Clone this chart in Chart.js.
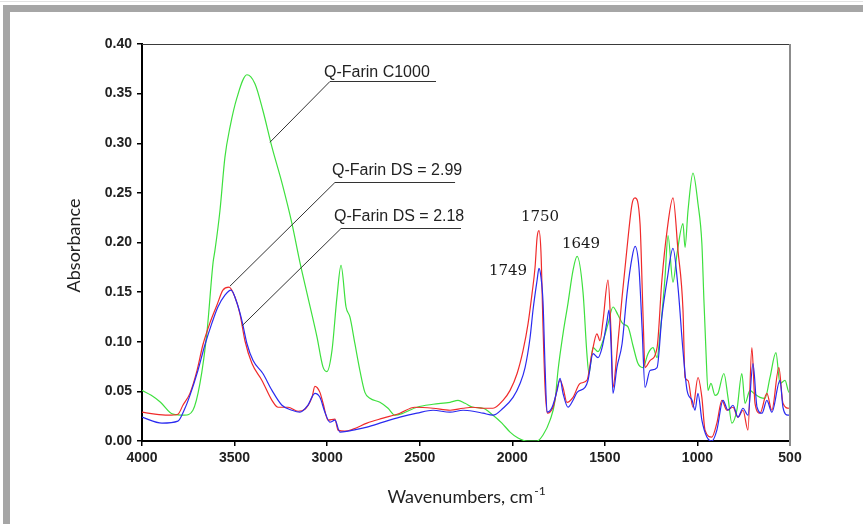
<!DOCTYPE html>
<html lang="en">
<head>
  <meta charset="UTF-8">
  <title>Espectros FTIR</title>
  <script src="https://cdn.jsdelivr.net/npm/chart.js"></script>
  <style>
    html, body { margin: 0; padding: 0; background: #fff; }
    #wrap { width: 863px; height: 524px; }
  </style>
</head>
<body>
<div id="wrap"><canvas id="grafico"></canvas></div>
<script>
  // Q-Farin C1000 (green)
  const wnC1000 = [4000, 3950, 3900, 3833, 3770, 3725, 3687, 3649, 3616, 3606,
    3579, 3552, 3525, 3487, 3433, 3390, 3347, 3298, 3244, 3190,
    3147, 3104, 3055, 3023, 3001, 2974, 2947, 2925, 2898, 2877,
    2850, 2823, 2796, 2769, 2715, 2671, 2634, 2590, 2515, 2428,
    2336, 2293, 2255, 2212, 2158, 2104, 2056, 2012, 1969, 1920,
    1866, 1834, 1796, 1769, 1753, 1726, 1699, 1672, 1650, 1618,
    1597, 1586, 1564, 1537, 1510, 1483, 1456, 1429, 1402, 1375,
    1348, 1321, 1294, 1267, 1240, 1218, 1202, 1175, 1159, 1132,
    1110, 1078, 1067, 1051, 1024, 997, 976, 965, 954, 943,
    927, 905, 889, 857, 835, 814, 787, 760, 743, 716,
    695, 662, 635, 608, 576, 554, 527, 505, 500];
  const absC1000 = [0.051, 0.046, 0.039, 0.027, 0.026, 0.031, 0.058, 0.110, 0.180, 0.192,
    0.232, 0.286, 0.316, 0.346, 0.369, 0.360, 0.333, 0.296, 0.260, 0.219,
    0.180, 0.145, 0.105, 0.075, 0.070, 0.091, 0.145, 0.177, 0.135, 0.125,
    0.098, 0.071, 0.049, 0.043, 0.039, 0.033, 0.026, 0.028, 0.034, 0.037,
    0.039, 0.041, 0.038, 0.034, 0.033, 0.026, 0.018, 0.009, 0.003, 0.000,
    0.000, 0.006, 0.021, 0.041, 0.071, 0.108, 0.139, 0.172, 0.186, 0.150,
    0.088, 0.068, 0.094, 0.090, 0.101, 0.118, 0.135, 0.127, 0.118, 0.115,
    0.096, 0.078, 0.074, 0.088, 0.094, 0.084, 0.108, 0.165, 0.207, 0.160,
    0.189, 0.219, 0.195, 0.232, 0.270, 0.239, 0.199, 0.142, 0.091, 0.051,
    0.058, 0.046, 0.048, 0.068, 0.044, 0.018, 0.031, 0.068, 0.038, 0.051,
    0.048, 0.044, 0.043, 0.064, 0.089, 0.058, 0.061, 0.049, 0.050];

  // Q-Farin DS = 2.99 (red)
  const wnDS299 = [4000, 3930, 3860, 3806, 3779, 3741, 3703, 3671, 3633, 3595,
    3563, 3530, 3498, 3471, 3444, 3406, 3352, 3298, 3265, 3211,
    3157, 3120, 3082, 3066, 3039, 3022, 2995, 2958, 2941, 2904,
    2860, 2785, 2698, 2607, 2526, 2428, 2336, 2266, 2212, 2158,
    2104, 2050, 2012, 1974, 1942, 1915, 1893, 1877, 1866, 1856,
    1845, 1834, 1823, 1810, 1780, 1742, 1726, 1705, 1672, 1634,
    1597, 1570, 1543, 1526, 1510, 1483, 1467, 1456, 1435, 1407,
    1380, 1353, 1337, 1310, 1294, 1283, 1256, 1218, 1192, 1164,
    1132, 1105, 1078, 1067, 1051, 1024, 997, 976, 959, 922,
    895, 868, 841, 808, 781, 754, 727, 706, 689, 662,
    625, 598, 560, 538, 505, 500];
  const absDS299 = [0.029, 0.027, 0.026, 0.027, 0.036, 0.048, 0.071, 0.097, 0.119, 0.137,
    0.152, 0.155, 0.145, 0.128, 0.101, 0.078, 0.061, 0.041, 0.034, 0.034,
    0.030, 0.032, 0.044, 0.055, 0.049, 0.038, 0.021, 0.022, 0.011, 0.010,
    0.012, 0.018, 0.023, 0.028, 0.034, 0.033, 0.031, 0.033, 0.034, 0.033,
    0.033, 0.041, 0.051, 0.068, 0.091, 0.118, 0.149, 0.175, 0.205, 0.212,
    0.190, 0.115, 0.054, 0.028, 0.034, 0.061, 0.054, 0.039, 0.044, 0.058,
    0.061, 0.088, 0.108, 0.101, 0.121, 0.162, 0.111, 0.054, 0.088, 0.145,
    0.195, 0.239, 0.245, 0.219, 0.128, 0.074, 0.081, 0.094, 0.162, 0.212,
    0.245, 0.192, 0.132, 0.064, 0.061, 0.034, 0.064, 0.044, 0.011, 0.004,
    0.018, 0.041, 0.031, 0.034, 0.024, 0.031, 0.011, 0.094, 0.038, 0.028,
    0.048, 0.031, 0.074, 0.038, 0.033, 0.033];

  // Q-Farin DS = 2.18 (blue)
  const wnDS218 = [4000, 3892, 3806, 3768, 3741, 3698, 3660, 3622, 3590, 3552,
    3519, 3487, 3460, 3433, 3400, 3347, 3298, 3244, 3190, 3147,
    3104, 3066, 3039, 3012, 2985, 2958, 2931, 2887, 2860, 2785,
    2698, 2607, 2515, 2428, 2336, 2266, 2212, 2158, 2104, 2050,
    1996, 1958, 1931, 1904, 1888, 1866, 1856, 1845, 1834, 1823,
    1812, 1785, 1758, 1742, 1726, 1699, 1672, 1650, 1607, 1591,
    1564, 1537, 1515, 1488, 1478, 1467, 1456, 1435, 1407, 1380,
    1353, 1337, 1316, 1299, 1283, 1256, 1218, 1192, 1164, 1132,
    1105, 1078, 1056, 1029, 1013, 997, 976, 949, 922, 895,
    862, 835, 808, 781, 754, 727, 700, 678, 651, 625,
    598, 554, 538, 511, 500];
  const absDS218 = [0.024, 0.018, 0.020, 0.033, 0.046, 0.071, 0.097, 0.119, 0.135, 0.147,
    0.152, 0.139, 0.121, 0.098, 0.081, 0.068, 0.051, 0.036, 0.031, 0.029,
    0.036, 0.048, 0.044, 0.029, 0.019, 0.021, 0.009, 0.010, 0.011, 0.014,
    0.019, 0.024, 0.028, 0.031, 0.029, 0.031, 0.030, 0.028, 0.026, 0.033,
    0.044, 0.058, 0.074, 0.104, 0.132, 0.162, 0.174, 0.165, 0.140, 0.075,
    0.029, 0.034, 0.051, 0.063, 0.048, 0.034, 0.041, 0.049, 0.054, 0.061,
    0.088, 0.084, 0.094, 0.121, 0.132, 0.100, 0.048, 0.074, 0.098, 0.149,
    0.185, 0.196, 0.175, 0.114, 0.054, 0.071, 0.074, 0.125, 0.162, 0.194,
    0.155, 0.091, 0.051, 0.041, 0.031, 0.048, 0.021, 0.004, 0.000, 0.011,
    0.041, 0.031, 0.036, 0.024, 0.033, 0.026, 0.078, 0.034, 0.028, 0.041,
    0.029, 0.061, 0.034, 0.026, 0.026];

  const xTicks = [4000, 3500, 3000, 2500, 2000, 1500, 1000, 500];

  // rótulos com linha de chamada: [texto, x do texto, y da base, inicio sublinhado, fim sublinhado, y sublinhado, ponto na curva]
  const rotulos = [
    ['Q-Farin C1000', 3017, 0.3666, 2985, 2412, 0.3626, [3309, 0.301]],
    ['Q-Farin DS = 2.99', 2974, 0.2678, 2958, 2309, 0.2608, [3525, 0.156]],
    ['Q-Farin DS = 2.18', 2963, 0.2215, 2925, 2277, 0.2144, [3460, 0.116]]
  ];
  const picos = [['1750', 1850, 0.2215], ['1649', 1629, 0.1943], ['1749', 2023, 0.167]];

  const pares = (xs, ys) => xs.map((x, i) => ({ x: x, y: ys[i] }));

  const moldura = {
    id: 'moldura',
    beforeDraw(chart) {
      const c = chart.ctx;
      c.save();
      c.fillStyle = '#fff';
      c.fillRect(0, 0, chart.width, chart.height);
      c.fillStyle = '#e2e2e2';
      c.fillRect(0, 1, chart.width, 1);
      c.fillStyle = '#a6a6a6';
      c.fillRect(3, 5, chart.width - 3, 7);
      c.fillRect(3, 5, 7, chart.height - 5);
      c.restore();
    },
    afterDraw(chart) {
      const c = chart.ctx;
      const a = chart.chartArea;
      const sx = chart.scales.x, sy = chart.scales.y;
      c.save();
      // topo e lado direito do quadro
      c.strokeStyle = '#3a3a3a';
      c.lineWidth = 1;
      c.beginPath();
      c.moveTo(a.left, a.top + 0.5);
      c.lineTo(a.right, a.top + 0.5);
      c.stroke();
      c.strokeStyle = '#8c8c8c';
      c.lineWidth = 2;
      c.beginPath();
      c.moveTo(a.right, a.top);
      c.lineTo(a.right, a.bottom + 5);
      c.stroke();

      // rótulos das séries
      c.font = '16px "Liberation Sans", Arial, sans-serif';
      c.fillStyle = '#222';
      c.textAlign = 'left';
      c.textBaseline = 'alphabetic';
      c.strokeStyle = '#333';
      c.lineWidth = 1;
      rotulos.forEach(r => {
        c.fillText(r[0], sx.getPixelForValue(r[1]), sy.getPixelForValue(r[2]));
        const yl = Math.round(sy.getPixelForValue(r[5])) + 0.5;
        c.beginPath();
        c.moveTo(sx.getPixelForValue(r[4]), yl);
        c.lineTo(sx.getPixelForValue(r[3]), yl);
        c.lineTo(sx.getPixelForValue(r[6][0]), sy.getPixelForValue(r[6][1]));
        c.stroke();
      });

      // números dos picos
      c.font = '15px "DejaVu Serif", Cambria, serif';
      c.fillStyle = '#1a1a1a';
      c.textAlign = 'center';
      picos.forEach(p => {
        c.fillText(p[0], sx.getPixelForValue(p[1]), sy.getPixelForValue(p[2]));
      });

      // títulos dos eixos
      c.fillStyle = '#222';
      c.font = '18px Lato, "Open Sans", sans-serif';
      c.save();
      c.translate(74, (a.top + a.bottom) / 2 + 3);
      c.rotate(-Math.PI / 2);
      c.textAlign = 'center';
      c.textBaseline = 'middle';
      c.fillText('Absorbance', 0, 0);
      c.restore();

      const t1 = 'Wavenumbers, cm', t2 = '-1';
      c.font = '18px Lato, "Open Sans", sans-serif';
      const w1 = c.measureText(t1).width;
      c.font = '12px Lato, "Open Sans", sans-serif';
      const w2 = c.measureText(t2).width;
      const x0 = (a.left + a.right) / 2 - (w1 + w2) / 2;
      c.textAlign = 'left';
      c.textBaseline = 'alphabetic';
      c.font = '18px Lato, "Open Sans", sans-serif';
      c.fillText(t1, x0, 503);
      c.font = '12px Lato, "Open Sans", sans-serif';
      c.fillText(t2, x0 + w1 + 1, 495);
      c.restore();
    }
  };

  const fonteEixo = { family: '"Liberation Sans", Arial, sans-serif', weight: 'bold', size: 14 };

  const grafico = new Chart(document.getElementById('grafico'), {
    type: 'scatter',
    data: {
      datasets: [
        { label: 'Q-Farin DS = 2.18', data: pares(wnDS218, absDS218), borderColor: '#2a2af0' },
        { label: 'Q-Farin DS = 2.99', data: pares(wnDS299, absDS299), borderColor: '#f02a2a' },
        { label: 'Q-Farin C1000', data: pares(wnC1000, absC1000), borderColor: '#3ee03e' }
      ].map(d => Object.assign(d, {
        showLine: true,
        borderWidth: 1.2,
        pointRadius: 0,
        cubicInterpolationMode: 'monotone',
        fill: false
      }))
    },
    options: {
      responsive: true,
      maintainAspectRatio: false,
      animation: false,
      devicePixelRatio: 1,
      layout: { padding: { top: 44, right: 73, left: 0, bottom: 0 } },
      plugins: {
        legend: { display: false },
        tooltip: { enabled: false }
      },
      scales: {
        x: {
          type: 'linear',
          reverse: true,
          min: 500,
          max: 4000,
          afterBuildTicks: s => { s.ticks = xTicks.map(v => ({ value: v })); },
          afterFit: s => { s.height = 83; },
          ticks: { font: fonteEixo, color: '#222', padding: 4, maxRotation: 0, autoSkip: false, callback: v => String(v) },
          grid: { drawOnChartArea: false, drawTicks: true, tickLength: 5, color: '#000', lineWidth: 1.5 },
          border: { display: true, color: '#000', width: 2 }
        },
        y: {
          min: 0,
          max: 0.4,
          afterFit: s => { s.width = 142; },
          ticks: { stepSize: 0.05, font: fonteEixo, color: '#222', padding: 5, callback: v => v.toFixed(2) },
          grid: { drawOnChartArea: false, drawTicks: true, tickLength: 5, color: '#000', lineWidth: 1.5 },
          border: { display: true, color: '#000', width: 2 }
        }
      }
    },
    plugins: [moldura]
  });
</script>
</body>
</html>
